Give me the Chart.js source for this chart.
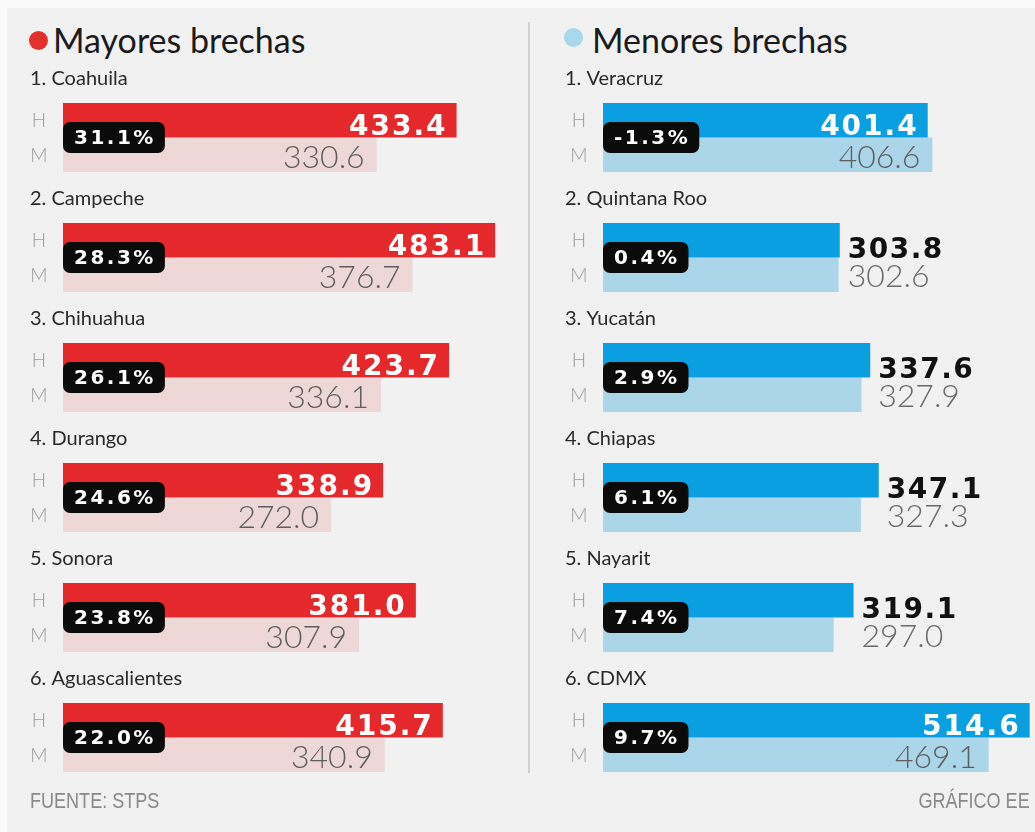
<!DOCTYPE html>
<html lang="es">
<head>
<meta charset="utf-8">
<script src="https://cdn.jsdelivr.net/npm/chart.js@4.4.1/dist/chart.umd.min.js"></script>
<style>
    html, body { margin: 0; padding: 0; }
    body {
        width: 1035px; height: 832px; position: relative; overflow: hidden;
        background: #fafafa; font-family: Lato, 'Noto Sans', sans-serif;
    }
    .panel { position: absolute; left: 7px; top: 8px; right: 0; bottom: 0; background: #f1f1f1; }
    .title { position: absolute; top: 19px; font-size: 34px; line-height: 42px; color: #1b1b1b; }
    .dot { position: absolute; width: 19px; height: 19px; border-radius: 50%; }
    .divider { position: absolute; left: 528px; top: 22px; width: 2px; height: 751px; background: #d0d0d0; }
    .foot {
        position: absolute; top: 788px; font-size: 22px; line-height: 26px; color: #8a8a8a;
        font-family: 'Liberation Sans Narrow', 'Liberation Sans', sans-serif;
        transform: scaleX(0.82);
    }
    .wrap { position: absolute; top: 0; height: 832px; }
</style>
</head>
<body>
<div class="panel"></div>
<div class="divider"></div>

<div class="dot" style="left:29px; top:31px; background:#e53030;"></div>
<div class="title" style="left:53px;">Mayores brechas</div>
<div class="dot" style="left:564px; top:28px; background:#a9d7ec;"></div>
<div class="title" style="left:592px;">Menores brechas</div>

<div class="wrap" style="left:0; width:528px;"><canvas id="mayores"></canvas></div>
<div class="wrap" style="left:528px; width:507px;"><canvas id="menores"></canvas></div>

<div class="foot" style="left:30px; transform-origin:left center;">FUENTE: STPS</div>
<div class="foot" style="right:5px; transform-origin:right center;">GRÁFICO EE</div>

<script>
// salario diario promedio, hombres (H) y mujeres (M), y brecha en %
const mayoresEstados = ['1. Coahuila', '2. Campeche', '3. Chihuahua', '4. Durango', '5. Sonora', '6. Aguascalientes'];
const mayoresH = [433.4, 483.1, 423.7, 338.9, 381.0, 415.7];
const mayoresM = [330.6, 376.7, 336.1, 272.0, 307.9, 340.9];
const mayoresBrecha = [31.1, 28.3, 26.1, 24.6, 23.8, 22.0];

const menoresEstados = ['1. Veracruz', '2. Quintana Roo', '3. Yucatán', '4. Chiapas', '5. Nayarit', '6. CDMX'];
const menoresH = [401.4, 303.8, 337.6, 347.1, 319.1, 514.6];
const menoresM = [406.6, 302.6, 327.9, 327.3, 297.0, 469.1];
const menoresBrecha = [-1.3, 0.4, 2.9, 6.1, 7.4, 9.7];

// dibuja nombres, letras H/M, valores y la etiqueta negra de la brecha
const etiquetasPlugin = {
    id: 'etiquetas',
    afterDatasetsDraw(chart, args, opts) {
        const ctx = chart.ctx;
        const barsH = chart.getDatasetMeta(0).data;
        const barsM = chart.getDatasetMeta(1).data;
        const bold = "bold 28px 'DejaVu Sans', sans-serif";
        const thin = "300 32px Lato, sans-serif";
        ctx.save();
        barsH.forEach((h, i) => {
            const m = barsM[i];
            const top = h.y - h.height / 2;
            const mid = h.y + h.height / 2;

            // nombre del estado
            ctx.font = '20px Lato, sans-serif';
            ctx.fillStyle = '#2a2a2a';
            ctx.textAlign = 'left';
            ctx.textBaseline = 'alphabetic';
            ctx.fillText(opts.estados[i], opts.nombreX, top - 18);

            // H / M
            ctx.font = '300 19px Lato, sans-serif';
            ctx.fillStyle = '#9a9a9a';
            ctx.textAlign = 'center';
            ctx.textBaseline = 'middle';
            ctx.fillText('H', h.base - 24, h.y + 1);
            ctx.fillText('M', m.base - 24, m.y + 1);

            // valores
            const txtH = chart.data.datasets[0].data[i].toFixed(1);
            const txtM = chart.data.datasets[1].data[i].toFixed(1);
            const dentro = chart.data.datasets[0].data[i] >= opts.dentroDesde;
            ctx.textBaseline = 'alphabetic';
            if (dentro) {
                ctx.textAlign = 'right';
                ctx.font = bold;
                ctx.letterSpacing = '2px';
                ctx.fillStyle = '#ffffff';
                ctx.fillText(txtH, h.x - 9, mid - 3);
                ctx.letterSpacing = '0px';
                ctx.font = thin;
                ctx.fillStyle = '#5e5e5e';
                ctx.fillText(txtM, m.x - 12, m.y + m.height / 2 - 4);
            } else {
                ctx.textAlign = 'left';
                ctx.font = bold;
                ctx.letterSpacing = '1.5px';
                ctx.fillStyle = '#111';
                ctx.fillText(txtH, h.x + 8, mid);
                ctx.letterSpacing = '0px';
                ctx.font = thin;
                ctx.fillStyle = '#6a6a6a';
                ctx.fillText(txtM, h.x + 8, m.y + m.height / 2 - 5);
            }

            // brecha
            const txtB = opts.brecha[i].toFixed(1) + '%';
            ctx.font = "bold 20px 'DejaVu Sans', sans-serif";
            ctx.letterSpacing = '2.5px';
            const w = ctx.measureText(txtB).width + 20;
            ctx.fillStyle = '#0b0b0b';
            ctx.beginPath();
            ctx.roundRect(h.base, mid - 15.5, w, 31, 7);
            ctx.fill();
            ctx.fillStyle = '#ffffff';
            ctx.textAlign = 'left';
            ctx.textBaseline = 'middle';
            ctx.fillText(txtB, h.base + 11, mid + 1);
            ctx.letterSpacing = '0px';
        });
        ctx.restore();
    }
};

function crearPanel(id, estados, hombres, mujeres, brecha, cfg) {
    return new Chart(document.getElementById(id), {
        type: 'bar',
        data: {
            labels: estados,
            datasets: [
                { label: 'H', data: hombres, backgroundColor: cfg.colorH, base: cfg.min, borderWidth: 0 },
                { label: 'M', data: mujeres, backgroundColor: cfg.colorM, base: cfg.min, borderWidth: 0 },
            ],
        },
        options: {
            indexAxis: 'y',
            responsive: true,
            maintainAspectRatio: false,
            animation: false,
            layout: { padding: cfg.padding },
            datasets: { bar: { categoryPercentage: 0.575, barPercentage: 1 } },
            scales: {
                x: { display: false, min: cfg.min, max: cfg.max },
                y: { display: false },
            },
            plugins: {
                legend: { display: false },
                tooltip: { enabled: false },
                etiquetas: {
                    estados: estados,
                    brecha: brecha,
                    nombreX: cfg.nombreX,
                    dentroDesde: cfg.dentroDesde,
                },
            },
        },
        plugins: [etiquetasPlugin],
    });
}

crearPanel('mayores', mayoresEstados, mayoresH, mayoresM, mayoresBrecha, {
    colorH: '#e4282b',
    colorM: '#eed8d7',
    min: -73,
    max: 515,
    padding: { left: 63, right: 8, top: 77.5, bottom: 34.5 },
    nombreX: 30,
    dentroDesde: 0,
});

crearPanel('menores', menoresEstados, menoresH, menoresM, menoresBrecha, {
    colorH: '#0a9fe0',
    colorM: '#abd6ea',
    min: 41,
    max: 520.5,
    padding: { left: 75, right: 0, top: 77.5, bottom: 34.5 },
    nombreX: 37,
    dentroDesde: 400,
});
</script>
</body>
</html>
